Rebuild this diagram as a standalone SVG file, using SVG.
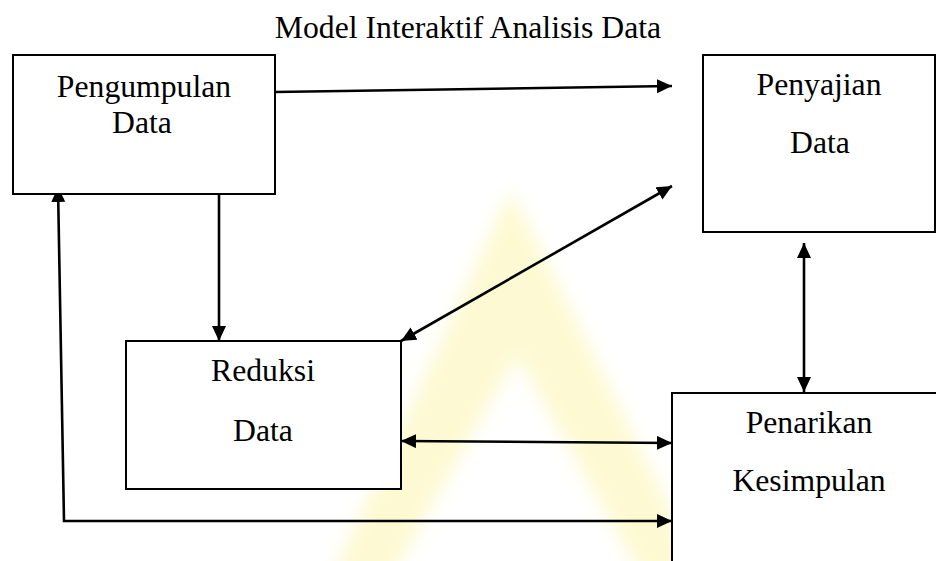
<svg xmlns="http://www.w3.org/2000/svg" width="936" height="561" viewBox="0 0 936 561">
  <style>
    .box { fill: #ffffff; stroke: #000000; stroke-width: 2; }
    .lbl { font-family: "Liberation Serif", "Times New Roman", serif; font-size: 31.7px; fill: #000000; text-anchor: middle; }
    .conn { fill: none; stroke: #000000; stroke-width: 2.6; }
  </style>
  <defs>
    <marker id="head" markerUnits="userSpaceOnUse" markerWidth="16" markerHeight="15" refX="15" refY="7" orient="auto-start-reverse" viewBox="0 0 16 15">
      <path d="M0,0 L15,7 L0,14 z" fill="#000000"/>
    </marker>
    <filter id="soft" x="-20%" y="-20%" width="140%" height="140%">
      <feGaussianBlur stdDeviation="9"/>
    </filter>
  </defs>

  <rect width="936" height="561" fill="#ffffff"/>

  <!-- faint background emblem -->
  <path d="M330,580 L511,190 L706,580 L644,580 L517,356 L390,580 Z" fill="#fbf39c" opacity="0.45" filter="url(#soft)"/>

  <!-- title -->
  <text class="lbl" x="468" y="38">Model Interaktif Analisis Data</text>

  <!-- connectors -->
  <g id="connectors">
    <line class="conn" x1="275" y1="92" x2="672" y2="86" marker-end="url(#head)"/>
    <line class="conn" x1="401" y1="341" x2="672" y2="186" marker-start="url(#head)" marker-end="url(#head)"/>
    <line class="conn" x1="219" y1="186" x2="219" y2="341" marker-end="url(#head)"/>
    <line class="conn" x1="401" y1="441" x2="672" y2="443" marker-start="url(#head)" marker-end="url(#head)"/>
    <polyline class="conn" points="58,187 64,521 672,521" marker-start="url(#head)" marker-end="url(#head)"/>
    <line class="conn" x1="804" y1="243" x2="804" y2="392" marker-start="url(#head)" marker-end="url(#head)"/>
  </g>

  <g id="pengumpulan">
    <rect class="box" x="13" y="55" width="262" height="139"/>
    <text class="lbl" x="144" y="97">Pengumpulan</text>
    <text class="lbl" x="142" y="133">Data</text>
  </g>

  <g id="penyajian">
    <rect class="box" x="703" y="55" width="232" height="177"/>
    <text class="lbl" x="819" y="95">Penyajian</text>
    <text class="lbl" x="820" y="153">Data</text>
  </g>

  <g id="reduksi">
    <rect class="box" x="126" y="341" width="275" height="148"/>
    <text class="lbl" x="263" y="381">Reduksi</text>
    <text class="lbl" x="263" y="441">Data</text>
  </g>

  <g id="penarikan">
    <rect class="box" x="672" y="393" width="280" height="200"/>
    <text class="lbl" x="809" y="433">Penarikan</text>
    <text class="lbl" x="809" y="491">Kesimpulan</text>
  </g>
</svg>
